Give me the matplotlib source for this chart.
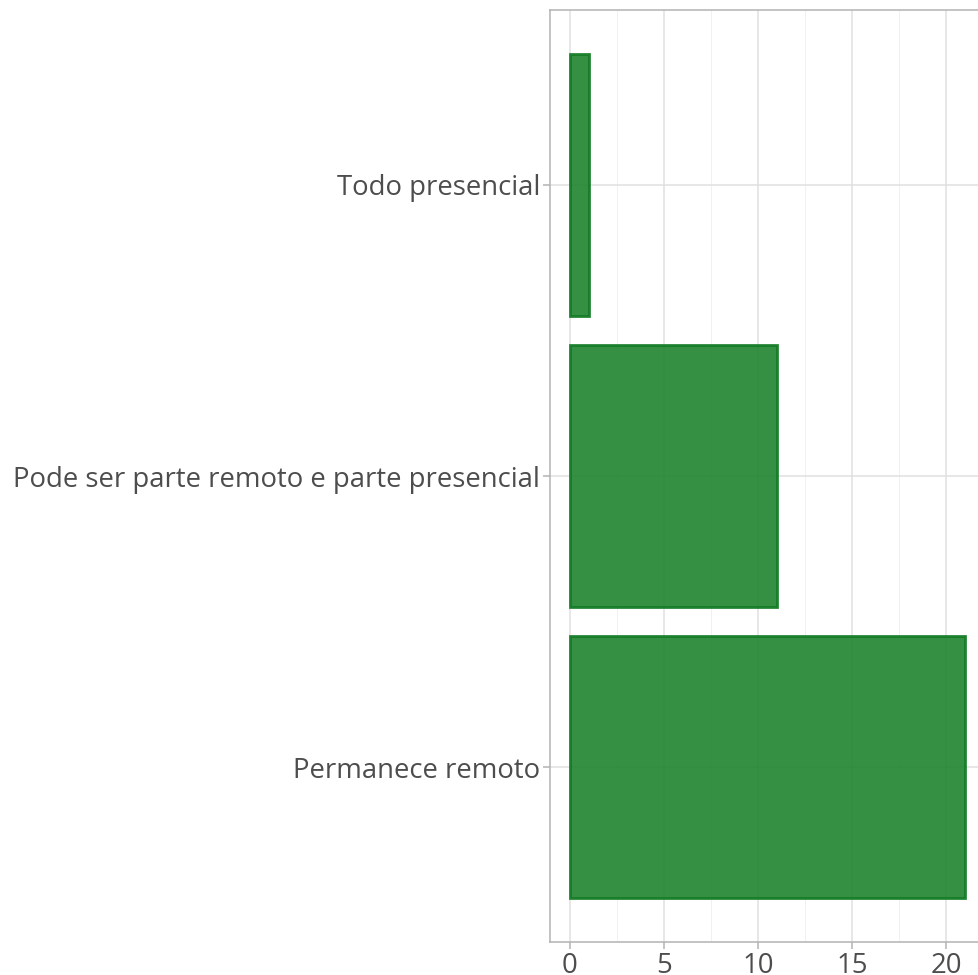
import matplotlib
matplotlib.use("Agg")
import matplotlib.pyplot as plt
from matplotlib.ticker import MultipleLocator

# dados
categorias = ["Permanece remoto", "Pode ser parte remoto e parte presencial", "Todo presencial"]
valores = [21, 11, 1]
xticks = [0, 5, 10, 15, 20]

plt.rcParams['font.family'] = ['Open Sans', 'DejaVu Sans']

fig = plt.figure(figsize=(9.79, 9.75), dpi=100)
# o painel passa um pouco da borda direita, como no original
ax = fig.add_axes([550 / 979, 1 - 942 / 975, 434.6 / 979, 932 / 975])

pos = list(range(1, len(categorias) + 1))
ax.barh(pos, valores, height=0.9, color='#1f8430', alpha=0.9,
        edgecolor='#0f7a22', linewidth=2, zorder=3)

ax.set_xlim(-1.05, 22.05)
ax.set_ylim(0.4, 3.6)
ax.set_yticks(pos)
ax.set_yticklabels(categorias)
ax.set_xticks(xticks)
ax.xaxis.set_minor_locator(MultipleLocator(2.5))

ax.grid(which='major', color='#e0e0e0', linewidth=1.1, zorder=0)
ax.grid(which='minor', axis='x', color='#efefef', linewidth=0.6, zorder=0)
ax.set_axisbelow(True)

for s in ax.spines.values():
    s.set_color('#b3b3b3')
    s.set_linewidth(1.1)

ax.tick_params(which='major', colors='#b3b3b3', labelcolor='#4d4d4d',
               labelsize=19.8, length=5, width=1.1, pad=2)
ax.tick_params(which='minor', length=0)

fig.savefig('out.png', dpi=100)
